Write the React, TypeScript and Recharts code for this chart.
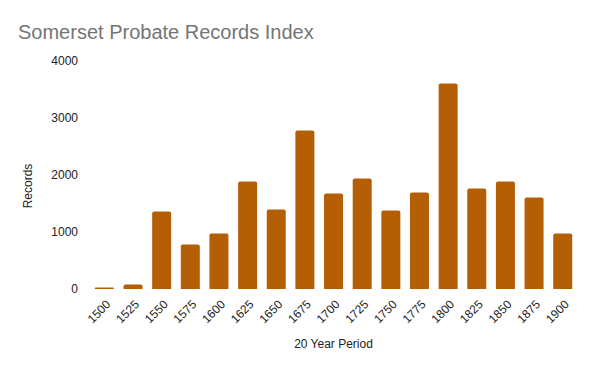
import { BarChart, Bar, XAxis, YAxis } from 'recharts'

const PERIODS = ['1500','1525','1550','1575','1600','1625','1650','1675','1700','1725','1750','1775','1800','1825','1850','1875','1900']
const RECORDS = [25, 80, 1360, 780, 975, 1885, 1395, 2780, 1675, 1940, 1377, 1693, 3605, 1763, 1885, 1605, 975]
const Y_TICKS = [0, 1000, 2000, 3000, 4000]

const FONT = '"Liberation Sans", Arial, sans-serif'
const BAR_COLOR = '#b45f06'
const TEXT = '#222'

const data = PERIODS.map((p, i) => ({ period: p, records: RECORDS[i] }))

function PeriodTick({ x, y, payload }: any) {
  const ax = x + 7
  const ay = y + 16
  return (
    <text x={ax} y={ay} textAnchor="end" transform={`rotate(-45, ${ax}, ${ay})`}
      fontSize={12} fill={TEXT} fontFamily={FONT}>
      {payload.value}
    </text>
  )
}

function YLabel({ viewBox }: any) {
  const cx = viewBox.x + 28
  const cy = 186
  return (
    <text x={cx} y={cy} textAnchor="middle" dominantBaseline="central"
      transform={`rotate(-90, ${cx}, ${cy})`} fontSize={12} fill={TEXT} fontFamily={FONT}>
      Records
    </text>
  )
}

function XLabel({ viewBox }: any) {
  return (
    <text x={viewBox.x + viewBox.width / 2} y={348} textAnchor="middle"
      fontSize={12} fill={TEXT} fontFamily={FONT}>
      20 Year Period
    </text>
  )
}

export default function App() {
  return (
    <div style={{ position: 'absolute', left: 0, top: 0, width: 600, height: 371, background: '#fff' }}>
      <svg width={600} height={60} style={{ position: 'absolute', left: 0, top: 0, pointerEvents: 'none' }}>
        <text x={18} y={38.5} fontSize={20} fill="#757575" fontFamily={FONT}>Somerset Probate Records Index</text>
      </svg>
      <BarChart width={600} height={371} data={data} margin={{ top: 61, right: 23, bottom: 0, left: 0 }}
        barCategoryGap="17%">
        <XAxis dataKey="period" interval={0} axisLine={false} tickLine={false} tickSize={0} tickMargin={0}
          height={82} tick={<PeriodTick />} label={<XLabel />} />
        <YAxis domain={[0, 4000]} ticks={Y_TICKS} width={90} axisLine={false} tickLine={false}
          tickMargin={6} tick={{ fontSize: 12, fill: TEXT, fontFamily: FONT }} label={<YLabel />} />
        <Bar dataKey="records" fill={BAR_COLOR} radius={[2, 2, 0, 0]} isAnimationActive={false} />
      </BarChart>
    </div>
  )
}
